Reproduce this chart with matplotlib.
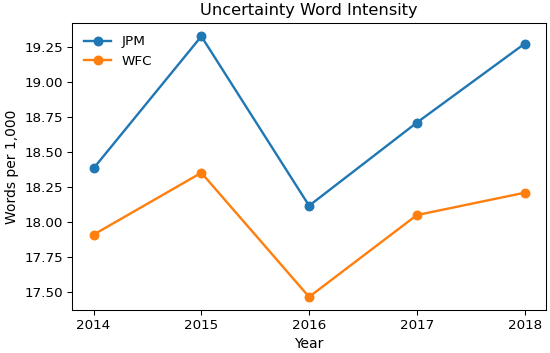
import matplotlib
matplotlib.use('Agg')
import matplotlib.pyplot as plt
from matplotlib.ticker import MultipleLocator, FormatStrFormatter

years = [2014, 2015, 2016, 2017, 2018]
jpm = [18.385, 19.33, 18.117, 18.712, 19.277]
wfc = [17.91, 18.353, 17.464, 18.05, 18.21]

fig, ax = plt.subplots(figsize=(550 / 95, 353 / 95), dpi=95)
ax.plot(years, jpm, 'o-', label='JPM', linewidth=1.8, markersize=6.5)
ax.plot(years, wfc, 'o-', label='WFC', linewidth=1.8, markersize=6.5)
ax.set_xticks(years)
ax.yaxis.set_major_locator(MultipleLocator(0.25))
ax.yaxis.set_major_formatter(FormatStrFormatter('%.2f'))
ax.set_title('Uncertainty Word Intensity', fontsize=12.3)
ax.set_xlabel('Year', fontsize=10.5)
ax.set_ylabel('Words per 1,000', fontsize=10.5)
ax.tick_params(labelsize=10.2)
ax.legend(loc='upper left', frameon=False, fontsize=10.2)
fig.subplots_adjust(left=0.131, right=0.993, top=0.934, bottom=0.122)
fig.savefig('out.png', dpi=95)
